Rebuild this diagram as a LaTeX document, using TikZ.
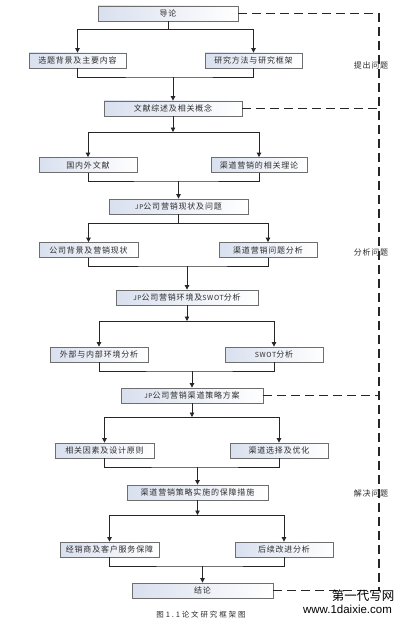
\documentclass[tikz,border=0pt]{standalone}
\usepackage{fontspec}
\setmainfont{Noto Sans CJK SC}
\newfontfamily\boxfont[LetterSpace=10]{Noto Sans CJK SC}
\newfontfamily\capfont[LetterSpace=25]{Noto Sans CJK SC}
\newfontfamily\wmfont{Liberation Sans}
\usetikzlibrary{arrows.meta,calc}
\definecolor{boxleft}{HTML}{D9E0EE}
\definecolor{boxedge}{HTML}{6E6E6E}
\definecolor{txt}{HTML}{2E2E2E}
\definecolor{conn}{HTML}{262626}
\tikzset{
  stepbox/.style={draw=boxedge, line width=0.8pt, left color=boxleft, right color=white,
    minimum height=15pt, inner sep=0pt, text=txt,
    font=\boxfont\fontsize{8}{9}\selectfont},
  link/.style={draw=conn, line width=0.8pt},
  arr/.style={link, -{Triangle[length=4.5pt,width=4.5pt]}},
  dashline/.style={draw=black!85, line width=1.1pt, dash pattern=on 9pt off 5pt},
  sidelabel/.style={text=txt, font=\boxfont\fontsize{8}{9}\selectfont, inner sep=0pt}
}
\begin{document}
\begin{tikzpicture}[x=1pt,y=-1pt]
\useasboundingbox (0,0) rectangle (403,623);
\fill[white] (0,0) rectangle (403,623);

% boxes
\node[stepbox, minimum width=140pt] (b1) at (168,13.5) {导论};
\node[stepbox, minimum width=97pt] (b2) at (77.5,60.5) {选题背景及主要内容};
\node[stepbox, minimum width=97pt] (b3) at (253.5,60.5) {研究方法与研究框架};
\node[stepbox, minimum width=138pt] (b4) at (173,108.5) {文献综述及相关概念};
\node[stepbox, minimum width=98pt] (b5) at (88,165) {国内外文献};
\node[stepbox, minimum width=96pt] (b6) at (259,165) {渠道营销的相关理论};
\node[stepbox, minimum width=139pt] (b7) at (178.5,206.5) {{\fontsize{6.5}{8}\selectfont JP}公司营销现状及问题};
\node[stepbox, minimum width=99pt] (b8) at (88.5,250) {公司背景及营销现状};
\node[stepbox, minimum width=98pt] (b9) at (268,250) {渠道营销问题分析};
\node[stepbox, minimum width=142pt] (b10) at (187,297.5) {{\fontsize{6.5}{8}\selectfont JP}公司营销环境及{\fontsize{7}{8}\selectfont SWOT}分析};
\node[stepbox, minimum width=98pt] (b11) at (99,354.5) {外部与内部环境分析};
\node[stepbox, minimum width=98pt] (b12) at (274,354.5) {{\fontsize{7}{8}\selectfont SWOT}分析};
\node[stepbox, minimum width=142pt] (b13) at (192,395.5) {{\fontsize{6.5}{8}\selectfont JP}公司营销渠道策略方案};
\node[stepbox, minimum width=99pt] (b14) at (104.5,450.5) {相关因素及设计原则};
\node[stepbox, minimum width=98pt] (b15) at (279,450.5) {渠道选择及优化};
\node[stepbox, minimum width=141pt] (b16) at (197.5,492.5) {渠道营销策略实施的保障措施};
\node[stepbox, minimum width=99pt] (b17) at (109.5,549.5) {经销商及客户服务保障};
\node[stepbox, minimum width=98pt] (b18) at (284,549.5) {后续改进分析};
\node[stepbox, minimum width=141pt] (b19) at (202.5,590.5) {结论};

% junction coordinates
\coordinate (s1) at (168,29);
\coordinate (m1) at (173,77);
\coordinate (s2) at (173,132);
\coordinate (m2) at (178.5,181);
\coordinate (s3) at (178.5,223);
\coordinate (m3) at (187,266);
\coordinate (s4) at (187,321);
\coordinate (m4) at (192,371);
\coordinate (s5) at (192,417);
\coordinate (m5) at (197.5,467);
\coordinate (s6) at (197.5,515);
\coordinate (m6) at (202.5,566);

% splits
\draw[link] (b1.south) -- (s1);
\draw[arr] (s1) -| (b2.north);
\draw[arr] (s1) -| (b3.north);
\draw[arr] (b4.south) -- (s2);
\draw[arr] (s2) -| (b5.north);
\draw[arr] (s2) -| (b6.north);
\draw[link] (b7.south) -- (s3);
\draw[arr] (s3) -| (b8.north);
\draw[arr] (s3) -| (b9.north);
\draw[arr] (b10.south) -- (s4);
\draw[arr] (s4) -| (b11.north);
\draw[arr] (s4) -| (b12.north);
\draw[arr] (b13.south) -- (s5);
\draw[arr] (s5) -| (b14.north);
\draw[arr] (s5) -| (b15.north);
\draw[arr] (b16.south) -- (s6);
\draw[arr] (s6) -| (b17.north);
\draw[arr] (s6) -| (b18.north);

% merges
\draw[link] (b2.south) |- (m1) -| (b3.south);
\draw[arr] (m1) -- (b4.north);
\draw[link] (b5.south) |- (m2) -| (b6.south);
\draw[arr] (m2) -- (b7.north);
\draw[link] (b8.south) |- (m3) -| (b9.south);
\draw[arr] (m3) -- (b10.north);
\draw[link] (b11.south) |- (m4) -| (b12.south);
\draw[arr] (m4) -- (b13.north);
\draw[link] (b14.south) |- (m5) -| (b15.south);
\draw[arr] (m5) -- (b16.north);
\draw[link] (b17.south) |- (m6) -| (b18.south);
\draw[arr] (m6) -- (b19.north);

% dashed feedback line
\coordinate (dtop) at (379,13.5);
\coordinate (dbot) at (379,590.5);
\draw[dashline] (b1.east) -- (dtop) -- (dbot);
\draw[dashline] (b4.east) -- (b4.east -| dtop);
\draw[dashline] (b13.east) -- (b13.east -| dtop);
\draw[dashline] (b19.east) -- (dbot);

% side labels
\node[sidelabel] (l1) at (371,65) {提出问题};
\node[sidelabel] (l2) at (371,252) {分析问题};
\node[sidelabel] (l3) at (371,493) {解决问题};

% caption
\node[inner sep=0pt, text=txt, font=\capfont\fontsize{7.5}{9}\selectfont] (cap) at (201,615) {图1.1论文研究框架图};

% watermark
\node[inner sep=0pt, text=black, font=\fontsize{12.5}{13}\selectfont] (wm1) at (363,596) {第一代写网};
\node[inner sep=0pt, text=black, font=\wmfont\fontsize{11.5}{13}\selectfont] (wm2) at (347.5,609) {www.1daixie.com};
\end{tikzpicture}
\end{document}
